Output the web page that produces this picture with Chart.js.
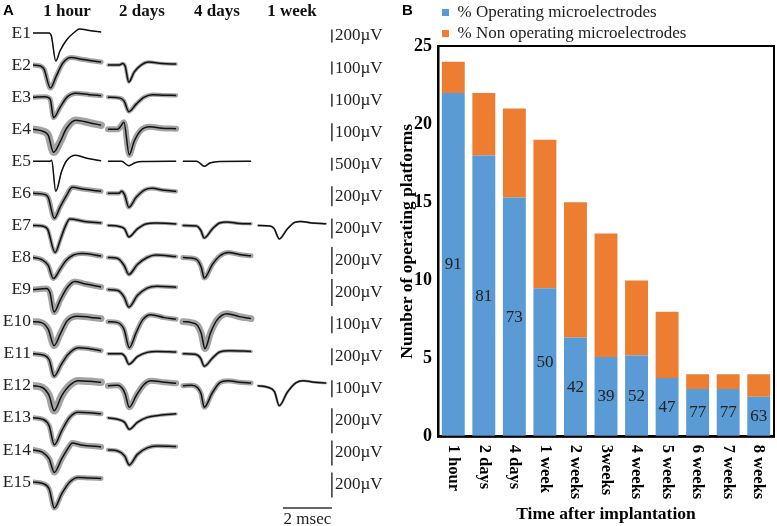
<!DOCTYPE html>
<html>
<head>
<meta charset="utf-8">
<script src="https://cdn.jsdelivr.net/npm/chart.js@4.4.1/dist/chart.umd.min.js"></script>
<style>
  html, body { margin: 0; padding: 0; background: #fff; }
  #wrap { position: relative; width: 777px; height: 526px; }
  #spikes { position: absolute; left: 0; top: 0; }
  #platforms { position: absolute; left: 388px; top: 0; }
</style>
</head>
<body>
<div id="wrap">
  <canvas id="spikes" width="388" height="526"></canvas>
  <canvas id="platforms" width="389" height="526"></canvas>
</div>
<script>
// ---------- panel A data: mean spike waveforms, [ms, amplitude] pairs ----------
const colLabels = ['1 hour', '2 days', '4 days', '1 week'];
const electrodes = ['E1','E2','E3','E4','E5','E6','E7','E8','E9','E10','E11','E12','E13','E14','E15'];
const scaleLabels = ['200µV','100µV','100µV','100µV','500µV','200µV','200µV','200µV','200µV','100µV','200µV','100µV','200µV','200µV','200µV'];
const scaleSpan = [13, 13, 13, 18, 13, 20, 20, 27, 27, 17, 17, 17, 25, 25, 25];

const hour1 = [
  [[0,0],[0.65,0],[0.75,-3],[0.93,-28],[1.1,-18],[1.37,-7],[1.7,1],[1.9,4],[2.3,2.5],[2.78,1]],
  [[0,0],[0.3,-1],[0.45,-4],[0.71,-23],[0.95,-11],[1.22,2],[1.55,7.5],[2.05,5.5],[2.78,3]],
  [[0,0],[0.5,0.5],[0.7,-2],[0.84,-20.5],[1.1,-10.5],[1.37,-0.5],[1.75,3.8],[2.3,2.5],[2.78,1.5]],
  [[0,0],[0.4,-2],[0.62,-6],[0.84,-23],[1.1,-13],[1.37,1],[1.75,9],[2.3,6.5],[2.78,4]],
  [[0,0],[0.7,0],[0.76,1],[0.93,-30],[1.17,-10],[1.37,0.5],[1.75,6],[2.2,3],[2.78,0.5]],
  [[0,0],[0.45,-1],[0.62,-4],[0.87,-25],[1.1,-14],[1.37,-2],[1.6,6],[2.1,4],[2.78,2]],
  [[0,0],[0.45,-1],[0.6,-4],[0.9,-27],[1.12,-14],[1.3,-2],[1.5,6.5],[2.1,4],[2.78,2.5]],
  [[0,0],[0.35,-2],[0.62,-8],[0.83,-21],[1.1,-12],[1.35,-3],[1.65,2.5],[2.0,4],[2.78,1.5]],
  [[0,0],[0.55,1],[0.69,-3],[0.86,-22.5],[1.12,-10],[1.4,2],[1.7,8],[2.15,5.5],[2.78,2.5]],
  [[0,0],[0.35,-1],[0.62,-7.5],[0.86,-24],[1.12,-12],[1.4,1],[1.8,5.5],[2.3,4.5],[2.78,3]],
  [[0,0],[0.45,-1.5],[0.66,-6],[0.86,-22.5],[1.15,-11],[1.42,-1],[1.85,6],[2.3,5],[2.78,3]],
  [[0,0],[0.4,-2],[0.66,-10],[0.86,-25],[1.17,-10],[1.5,0.5],[1.85,5],[2.3,4.5],[2.78,3.5]],
  [[0,0],[0.4,-1.5],[0.66,-8],[0.87,-27],[1.17,-13],[1.5,0.5],[1.85,5.5],[2.3,5],[2.78,4]],
  [[0,0],[0.4,-2.5],[0.66,-9],[0.87,-22.5],[1.17,-9],[1.44,2],[1.6,7],[1.95,5],[2.78,3]],
  [[0,0],[0.4,-1.5],[0.66,-7],[0.87,-26],[1.17,-12],[1.5,0],[1.85,4.5],[2.3,4],[2.78,3.5]]
];
const hour1Sd = [0.4, 2.5, 2.5, 3.8, 0.4, 2.5, 2, 2.5, 3, 3.4, 2.5, 3.8, 2.5, 3, 2.5];

const days2 = [
  null,
  [[0,0],[0.45,0],[0.6,1.5],[0.7,-1],[0.85,-17],[1.07,-7],[1.35,0],[1.65,3],[2.2,1.5],[2.78,1]],
  [[0,0],[0.5,-1],[0.66,-4],[0.85,-14.5],[1.15,-7],[1.48,0],[1.82,2.5],[2.3,2],[2.78,1.7]],
  [[0,0],[0.4,0],[0.55,4],[0.65,7],[0.87,-25.5],[1.07,-12],[1.35,-1],[1.7,2.5],[2.2,1],[2.78,0.5]],
  [[0,0],[0.55,0],[0.85,-4.5],[1.1,-1.5],[1.4,-0.3],[2.78,0]],
  [[0,0],[0.45,0],[0.56,2],[0.68,-1.5],[0.85,-14],[1.15,-4],[1.5,3.5],[1.8,5],[2.3,3],[2.78,2]],
  [[0,0],[0.45,-1],[0.68,-3.5],[0.85,-11.5],[1.2,-3.5],[1.55,1.5],[1.95,2.3],[2.78,1.5]],
  [[0,0],[0.4,-1],[0.66,-8],[0.85,-17],[1.2,-7],[1.6,0],[1.95,2.5],[2.78,1]],
  [[0,0],[0.4,-1],[0.66,-7.5],[0.85,-17.5],[1.2,-6],[1.6,1.5],[2.0,3.3],[2.78,2.3]],
  [[0,0],[0.4,-1],[0.66,-8],[0.87,-26],[1.15,-11],[1.42,2],[1.75,7],[2.3,4],[2.78,2.5]],
  [[0,0],[0.55,0],[0.7,-3],[0.85,-10.5],[1.2,-3],[1.6,1.3],[2.0,2.3],[2.78,1.7]],
  [[0,0],[0.4,0.5],[0.6,-3],[0.7,-8],[0.87,-21.5],[1.15,-10],[1.48,1.5],[1.75,5],[2.3,3.5],[2.78,2.5]],
  [[0,0],[0.4,-1.5],[0.68,-4.5],[0.87,-11.5],[1.2,-4.5],[1.6,0.5],[2.1,2.5],[2.78,4]],
  [[0,0],[0.4,-1],[0.68,-6],[0.87,-15],[1.2,-4.5],[1.6,2],[2.0,4],[2.78,3.3]],
  null
];
const days2Sd = [0, 1.7, 2.1, 3, 0.4, 2.1, 1.7, 2.1, 2.1, 2.5, 1.7, 3, 1.7, 2.1, 0];

const days4 = [
  null, null, null, null,
  [[0,0],[0.55,0],[0.65,-1],[0.87,-5],[1.1,-1.7],[1.5,-0.2],[2.78,0]],
  null,
  [[0,0],[0.55,-0.5],[0.73,-5],[0.87,-12.5],[1.2,-3.5],[1.5,2.5],[1.8,3.3],[2.3,2],[2.78,1.7]],
  [[0,0],[0.45,-1],[0.62,-3.5],[0.75,-10],[0.87,-20.5],[1.2,-7],[1.5,1.5],[1.85,5],[2.3,3],[2.78,1.7]],
  null,
  [[0,0],[0.35,-1],[0.6,-4],[0.75,-12],[0.9,-27],[1.13,-11],[1.4,2],[1.8,8],[2.3,5],[2.78,3]],
  [[0,0],[0.5,-0.5],[0.72,-4.5],[0.87,-12.5],[1.2,-4.5],[1.5,1.7],[1.9,3],[2.78,2.3]],
  [[0,0],[0.35,0.5],[0.6,-2],[0.74,-8],[0.87,-21.5],[1.2,-7],[1.5,3],[1.85,5],[2.3,3.5],[2.78,2.7]],
  null, null, null
];
const days4Sd = [0, 0, 0, 0, 0.4, 0, 1.7, 2.5, 0, 3.4, 1.7, 2.5, 0, 0, 0];

const week1 = [
  null, null, null, null, null, null,
  [[0,0],[0.5,-0.5],[0.67,-3.5],[0.87,-13.5],[1.2,-3.5],[1.5,3],[1.75,4],[2.2,2.5],[2.78,1.7]],
  null, null, null, null,
  [[0,0],[0.4,-1.5],[0.68,-6],[0.87,-20],[1.2,-6.5],[1.55,3],[1.85,5],[2.3,3.5],[2.78,2.7]],
  null, null, null
];
const week1Sd = [0, 0, 0, 0, 0, 0, 1, 0, 0, 0, 0, 1.3, 0, 0, 0];

// ---------- panel B data ----------
const timeLabels = ['1 hour', '2 days', '4 days', '1 week', '2 weeks', '3weeks', '4 weeks', '5 weeks', '6 weeks', '7 weeks', '8 weeks'];
const operating = [22, 18, 15.3, 9.5, 6.35, 5.1, 5.2, 3.75, 3.05, 3.05, 2.55];
const nonOperating = [2, 4, 5.7, 9.5, 8.65, 7.9, 4.8, 4.25, 0.95, 0.95, 1.45];
const operatingPct = [91, 81, 73, 50, 42, 39, 52, 47, 77, 77, 63];

// ---------- layout constants ----------
const ROW_GAP = 32.07;   // display units between electrode rows
const COL_GAP = 3.06;    // ms between time columns
const TRACE_MS = 2.78;   // length of one waveform
const SCALE_T = 12.2;    // ms where the voltage scale bars sit
const SERIF = '"Liberation Serif", "Times New Roman", serif';

Chart.defaults.font.family = SERIF;

const rowBase = r => -r * ROW_GAP;

function pxPerUnit(chart) {
  const y = chart.scales.y;
  return y ? Math.abs(y.getPixelForValue(1) - y.getPixelForValue(0)) : 1;
}

function traceSets(col, traces, sds) {
  const sets = [];
  traces.forEach((tr, r) => {
    if (!tr) return;
    const pts = tr.map(([t, v]) => ({ x: col * COL_GAP + t, y: rowBase(r) + v }));
    const sd = sds[r];
    sets.push({
      data: pts,
      order: 2,
      borderColor: '#a3a3a3',
      borderCapStyle: 'round',
      borderWidth: ctx => 2 * sd * pxPerUnit(ctx.chart)
    });
    sets.push({ data: pts, order: 1, borderColor: '#111', borderWidth: 1.5 });
  });
  return sets;
}

const spikeExtras = {
  id: 'spikeExtras',
  afterDraw(chart) {
    const { ctx, scales: { x, y } } = chart;
    ctx.save();
    ctx.strokeStyle = '#333';
    ctx.lineWidth = 1.5;
    ctx.fillStyle = '#222';
    ctx.font = '17px ' + SERIF;
    ctx.textBaseline = 'middle';
    ctx.textAlign = 'left';
    const bx = x.getPixelForValue(SCALE_T);
    scaleLabels.forEach((lab, r) => {
      const mid = rowBase(r) - 3;
      ctx.beginPath();
      ctx.moveTo(bx, y.getPixelForValue(mid + scaleSpan[r] / 2));
      ctx.lineTo(bx, y.getPixelForValue(mid - scaleSpan[r] / 2));
      ctx.stroke();
      ctx.fillText(lab, bx + 3, y.getPixelForValue(mid));
    });
    // 2 msec bar
    const ty = y.getPixelForValue(rowBase(14) - 26);
    const tx0 = x.getPixelForValue(SCALE_T - 2);
    ctx.beginPath();
    ctx.moveTo(tx0, ty);
    ctx.lineTo(bx, ty);
    ctx.stroke();
    ctx.textAlign = 'center';
    ctx.fillText('2 msec', (tx0 + bx) / 2, ty + 12);
    // panel letter
    ctx.fillStyle = '#000';
    ctx.textAlign = 'left';
    ctx.font = 'bold 15px "Liberation Sans", Arial, sans-serif';
    ctx.fillText('A', 3, 11);
    ctx.restore();
  }
};

new Chart(document.getElementById('spikes'), {
  type: 'line',
  data: {
    datasets: [
      ...traceSets(0, hour1, hour1Sd),
      ...traceSets(1, days2, days2Sd),
      ...traceSets(2, days4, days4Sd),
      ...traceSets(3, week1, week1Sd)
    ]
  },
  options: {
    responsive: false,
    animation: false,
    layout: { padding: 0 },
    elements: {
      point: { radius: 0 },
      line: { cubicInterpolationMode: 'monotone', borderJoinStyle: 'round', fill: false }
    },
    plugins: { legend: { display: false }, tooltip: { enabled: false } },
    scales: {
      x: {
        type: 'linear',
        position: 'top',
        min: 0,
        max: 14.49,
        grid: { display: false, drawTicks: false },
        border: { display: false },
        afterBuildTicks: s => { s.ticks = colLabels.map((_, c) => ({ value: c * COL_GAP + TRACE_MS / 2 })); },
        afterFit: s => { s.height = 24; s.paddingLeft = 0; s.paddingRight = 0; },
        ticks: {
          autoSkip: false,
          maxRotation: 0,
          padding: 2,
          color: '#111',
          font: { size: 17, weight: 'bold' },
          callback: (v, i) => colLabels[i]
        }
      },
      y: {
        type: 'linear',
        min: -493,
        max: 9,
        grid: { display: false, drawTicks: false },
        border: { display: false },
        afterBuildTicks: s => { s.ticks = electrodes.map((_, r) => ({ value: rowBase(r) })); },
        afterFit: s => { s.width = 33; s.paddingTop = 0; s.paddingBottom = 0; },
        ticks: {
          autoSkip: false,
          padding: 2,
          color: '#222',
          font: { size: 17.5 },
          callback: (v, i) => electrodes[i]
        }
      }
    }
  },
  plugins: [spikeExtras]
});

// ---------- panel B ----------
const barExtras = {
  id: 'barExtras',
  beforeLayout(chart) {
    const lg = chart.legend;
    if (lg && !lg._fixedFit) {
      const fit = lg.fit;
      lg.fit = function () { fit.call(this); this.height = 46; };
      lg._fixedFit = true;
    }
  },
  afterDatasetsDraw(chart) {
    const { ctx, chartArea: a } = chart;
    ctx.save();
    ctx.font = '17px ' + SERIF;
    ctx.fillStyle = '#222';
    ctx.textAlign = 'center';
    ctx.textBaseline = 'middle';
    chart.getDatasetMeta(0).data.forEach((bar, i) => {
      ctx.fillText(String(operatingPct[i]), bar.x, (bar.y + bar.base) / 2);
    });
    ctx.strokeStyle = '#000';
    ctx.lineWidth = 2;
    ctx.strokeRect(a.left, a.top, a.right - a.left, a.bottom - a.top);
    ctx.restore();
  },
  afterDraw(chart) {
    const { ctx, chartArea: a, scales: { x } } = chart;
    ctx.save();
    ctx.fillStyle = '#000';
    ctx.font = 'bold 16.5px ' + SERIF;
    ctx.textAlign = 'left';
    ctx.textBaseline = 'middle';
    timeLabels.forEach((lab, i) => {
      ctx.save();
      ctx.translate(x.getPixelForTick(i), a.bottom + 8);
      ctx.rotate(Math.PI / 2);
      ctx.fillText(lab, 0, 0);
      ctx.restore();
    });
    ctx.font = 'bold 15px "Liberation Sans", Arial, sans-serif';
    ctx.fillText('B', 14, 11);
    ctx.restore();
  }
};

new Chart(document.getElementById('platforms'), {
  type: 'bar',
  data: {
    labels: timeLabels,
    datasets: [
      { label: '% Operating microelectrodes', data: operating, backgroundColor: '#5b9bd5' },
      { label: '% Non operating microelectrodes', data: nonOperating, backgroundColor: '#ed7d31' }
    ]
  },
  options: {
    responsive: false,
    animation: false,
    layout: { padding: { left: 0, right: 3, top: 0, bottom: 0 } },
    datasets: { bar: { barPercentage: 0.75, categoryPercentage: 1 } },
    plugins: {
      tooltip: { enabled: false },
      legend: {
        position: 'top',
        align: 'start',
        fullSize: false,
        labels: {
          boxWidth: 7,
          boxHeight: 7,
          padding: 4,
          color: '#222',
          font: { size: 17 }
        }
      }
    },
    scales: {
      x: {
        stacked: true,
        grid: { display: false, drawTicks: false },
        border: { color: '#000', width: 2.5 },
        ticks: { display: false, autoSkip: false },
        afterFit: s => { s.height = 89.3; s.paddingLeft = 0; s.paddingRight = 0; },
        title: {
          display: true,
          text: 'Time after implantation',
          color: '#000',
          font: { size: 17.5, weight: 'bold' },
          padding: { top: 0, bottom: 1 }
        }
      },
      y: {
        stacked: true,
        min: 0,
        max: 25,
        grid: { display: false, drawTicks: false },
        border: { color: '#000', width: 2.5 },
        afterFit: s => { s.width = 50; },
        ticks: {
          stepSize: 5,
          padding: 6,
          color: '#000',
          font: { size: 18, weight: 'bold' }
        },
        title: {
          display: true,
          text: 'Number of operating platforms',
          color: '#000',
          font: { size: 17.5, weight: 'bold' },
          padding: { top: 9, bottom: 0 }
        }
      }
    }
  },
  plugins: [barExtras]
});
</script>
</body>
</html>
